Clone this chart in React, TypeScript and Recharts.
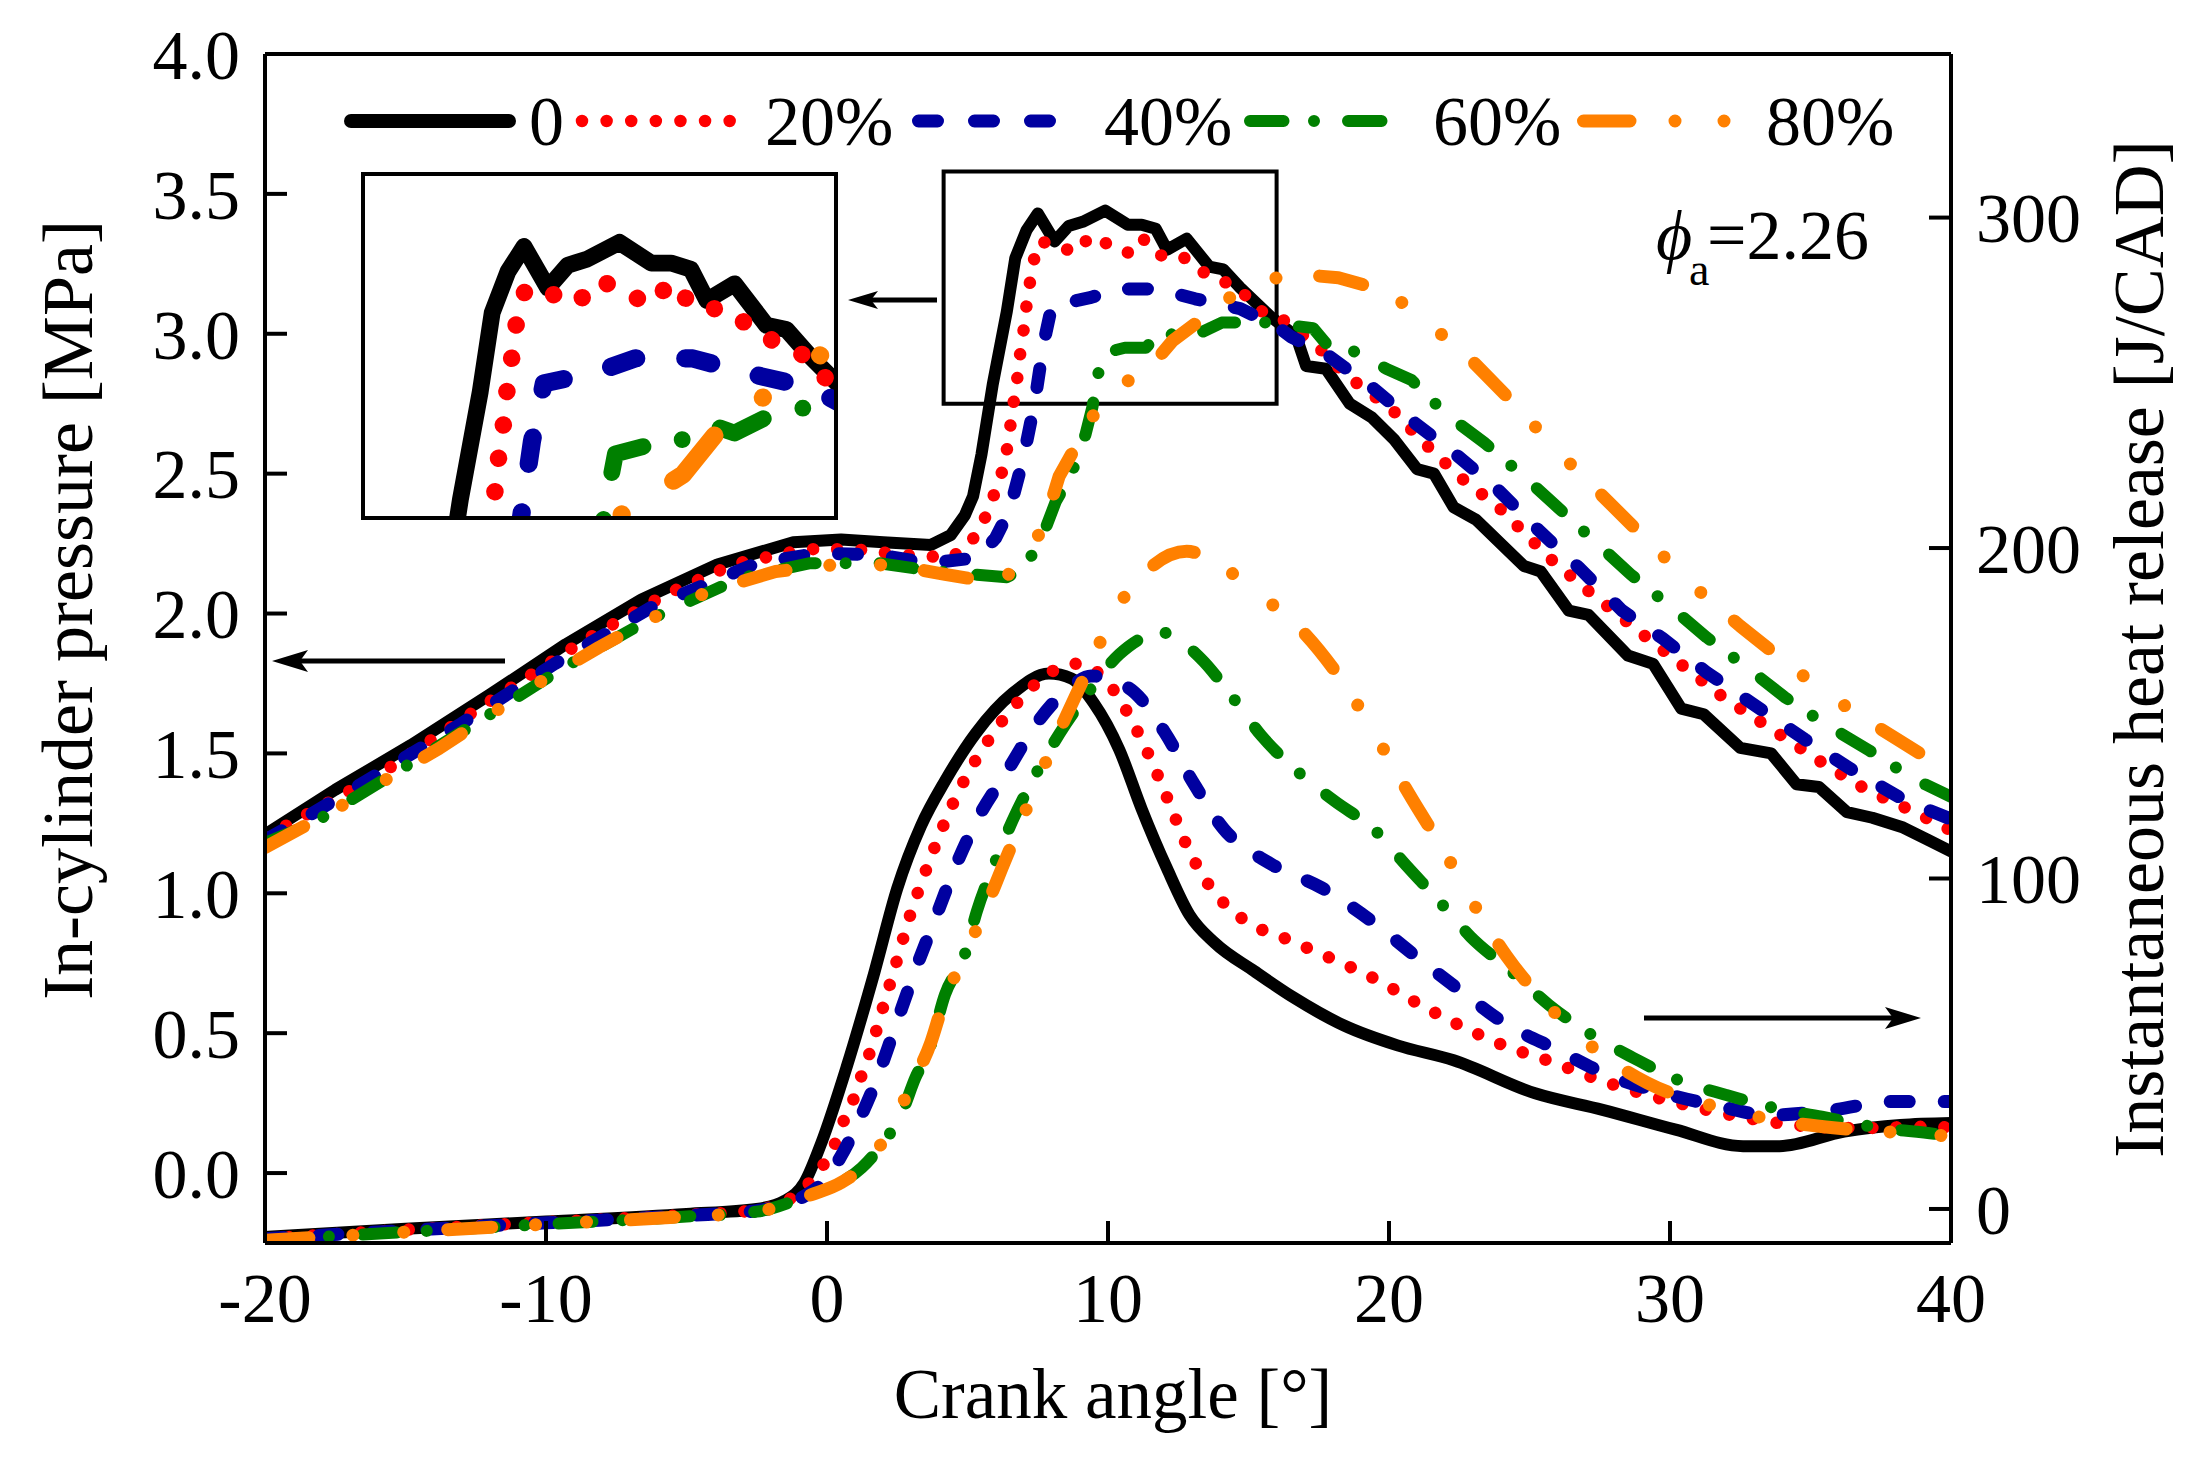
import { LineChart, Line, XAxis, YAxis, ReferenceLine, ReferenceArea } from "recharts"

const FONT = '"Liberation Serif", "Times New Roman", Times, serif'

// crank angle [deg], in-cylinder pressure [MPa]
const pressure0 = [
    [-20, 1.21], [-17.5, 1.37], [-14.8, 1.53], [-12, 1.71], [-9.3, 1.89], [-6.6, 2.05], [-3.9, 2.175],
    [-1.2, 2.255], [0.5, 2.265], [2, 2.255], [3.7, 2.245], [4.4, 2.28], [4.9, 2.35], [5.2, 2.42],
    [5.5, 2.57], [5.9, 2.82], [6.4, 3.08], [6.7, 3.27], [7.1, 3.37], [7.5, 3.43], [8.1, 3.33],
    [8.6, 3.385], [9.1, 3.4], [9.9, 3.44], [10.7, 3.39], [11.2, 3.39], [11.7, 3.375], [12.1, 3.3],
    [12.8, 3.34], [13.6, 3.24], [14.1, 3.23], [14.7, 3.165], [15.8, 3.06], [16.7, 2.99], [17.05, 2.885],
    [17.75, 2.875], [18.6, 2.75], [19.4, 2.7], [20.2, 2.62], [21.0, 2.516], [21.6, 2.5], [22.3, 2.38],
    [23.1, 2.335], [24.8, 2.17], [25.4, 2.15], [26.4, 2.01], [27.1, 1.995], [28.5, 1.85], [29.4, 1.82],
    [30.4, 1.66], [31.2, 1.64], [32.5, 1.52], [33.6, 1.5], [34.5, 1.39], [35.3, 1.38], [36.3, 1.29],
    [37.2, 1.27], [38.3, 1.235], [39.2, 1.19], [40, 1.15],
]
const pressure20 = [
    [-20, 1.2], [-16, 1.42], [-12.4, 1.66], [-8.7, 1.9], [-5.7, 2.07], [-3.3, 2.177], [-0.75, 2.23],
    [1, 2.23], [2.7, 2.21], [4.4, 2.2], [5.0, 2.24], [5.5, 2.31], [5.8, 2.39], [6.15, 2.475],
    [6.37, 2.565], [6.5, 2.65], [6.6, 2.73], [6.75, 2.82], [6.83, 2.9], [6.97, 2.99], [7.07, 3.08],
    [7.19, 3.16], [7.3, 3.24], [7.54, 3.33], [8.1, 3.32], [8.8, 3.29], [9.4, 3.35], [10.0, 3.32],
    [10.7, 3.29], [11.2, 3.345], [11.8, 3.28], [12.6, 3.28], [13.4, 3.22], [14.05, 3.19], [14.7, 3.16],
    [15.3, 3.086], [16.1, 3.06], [17.4, 2.96], [18.1, 2.89], [18.7, 2.835], [19.5, 2.775], [20.1, 2.73],
    [21.2, 2.615], [22.5, 2.49], [23.9, 2.38], [25.7, 2.2], [27.1, 2.08], [29.1, 1.92], [30.5, 1.81],
    [31.9, 1.7], [34.1, 1.555], [35.6, 1.455], [37.0, 1.37], [38.5, 1.3], [40, 1.225],
]
const pressure40 = [
    [-20, 1.19], [-18.4, 1.28], [-13.0, 1.607], [-9.7, 1.82], [-6.2, 2.025], [-2.5, 2.18], [-0.33, 2.215],
    [1.85, 2.21], [3.6, 2.18], [5.4, 2.2], [6.0, 2.27], [6.5, 2.37], [7.0, 2.56], [7.4, 2.76],
    [7.7, 2.96], [8.0, 3.1], [8.5, 3.11], [9.4, 3.13], [10.3, 3.16], [11.75, 3.16], [13.1, 3.125],
    [14.7, 3.09], [16.1, 3.02], [16.5, 2.99], [17.8, 2.925], [19.5, 2.8], [20.8, 2.69], [22.3, 2.575],
    [23.8, 2.45], [25.3, 2.3], [26.8, 2.16], [28.3, 2.01], [29.75, 1.91], [31.3, 1.79], [33.05, 1.67],
    [34.8, 1.55], [36.5, 1.44], [38.4, 1.33], [40, 1.265],
]
const pressure60 = [
    [-20, 1.18], [-18.3, 1.25], [-12.4, 1.614], [-9.4, 1.805], [-6.3, 1.98], [-3.1, 2.126], [-0.6, 2.18],
    [1.85, 2.18], [3.9, 2.15], [6.4, 2.13], [7.0, 2.16], [7.65, 2.27], [8.14, 2.4], [8.7, 2.5],
    [9.2, 2.64], [9.45, 2.74], [9.6, 2.83], [9.8, 2.93], [10.6, 2.95], [11.35, 2.95], [11.9, 3.01],
    [12.8, 2.98], [14.05, 3.04], [15.7, 3.04], [17.3, 3.02], [17.8, 2.96], [18.7, 2.94], [19.9, 2.875],
    [20.8, 2.835], [22.0, 2.715], [23.4, 2.61], [24.8, 2.49], [26.0, 2.38], [27.3, 2.26], [28.6, 2.14],
    [29.95, 2.03], [31.3, 1.915], [32.7, 1.81], [34.1, 1.7], [35.6, 1.6], [37.1, 1.51], [38.65, 1.41],
    [40, 1.345],
]
const pressure80 = [
    [-20, 1.164], [-17.5, 1.3], [-13.8, 1.518], [-10.3, 1.75], [-8.1, 1.88], [-5.9, 2.0], [-4.2, 2.08],
    [-1.83, 2.15], [0.75, 2.18], [2.56, 2.17], [4.2, 2.14], [6.0, 2.11], [7.07, 2.18], [7.8, 2.34],
    [8.26, 2.49], [9.2, 2.66], [9.9, 2.78], [11.0, 2.85], [11.5, 2.88], [12.3, 2.975], [13.7, 3.08],
    [14.6, 3.15], [15.2, 3.18], [16.4, 3.21], [17.1, 3.21], [18.2, 3.2], [20.0, 3.15], [21.2, 3.05],
    [22.6, 2.94], [24.4, 2.755], [26.2, 2.56], [27.5, 2.43], [29.3, 2.25], [31.1, 2.075], [32.5, 1.955],
    [34.5, 1.795], [36.5, 1.65], [38.1, 1.55], [40, 1.43],
]

// crank angle [deg], instantaneous heat release [J/CAD]
const heat0 = [
    [-20, -8.5], [-15, -6], [-10, -3.8], [-5, -1.5], [-2.5, 0], [-1.5, 2.5], [-0.8, 8], [-0.2, 20],
    [0.7, 43], [1.7, 72], [2.5, 97], [3.35, 116], [4.2, 129.5], [5.3, 144], [6.6, 156], [7.9, 162],
    [8.7, 160.5], [9.5, 153], [10.4, 139], [11.2, 121], [12.1, 103], [12.9, 89], [13.8, 80.5],
    [15.2, 72], [16.6, 64], [18.4, 55.5], [20.3, 49.5], [22.3, 45], [25.2, 35], [27.6, 30], [30.2, 24],
    [32.6, 19], [33.9, 19], [36.2, 23.4], [38.2, 25.4], [40, 26],
]
const heat20 = [
    [-20, -9], [-15, -6.3], [-10, -4], [-5, -1.8], [-2.5, -0.3], [-1.0, 5], [-0.26, 11.8], [0.24, 18.8],
    [0.53, 25.4], [0.89, 32], [1.17, 39], [1.46, 45.7], [1.96, 60], [2.44, 73.8], [2.94, 88.4],
    [3.5, 102], [4.13, 115.8], [4.84, 129], [5.68, 141], [6.73, 152.8], [8.08, 163], [8.9, 165],
    [10.2, 157], [10.68, 150.4], [11.45, 137.4], [12.15, 123.5], [12.8, 110], [13.56, 98.4],
    [14.8, 87.7], [16.35, 81.7], [18.0, 75.6], [19.6, 69.2], [21.0, 62.3], [22.6, 55.2], [24.2, 49.1],
    [25.9, 44.2], [27.5, 39], [29.2, 34.5], [30.8, 31], [32.5, 27.9], [35.1, 24.9], [36.8, 24.5],
    [39.4, 24.9], [40, 24.5],
]
const heat40 = [
    [-20, -9], [-15, -6.5], [-10, -4.2], [-5, -2], [-2.5, -0.5], [-1, 3], [-0.13, 8.2], [0.5, 16],
    [0.96, 23.6], [1.74, 38.6], [2.44, 55.4], [3.13, 72], [3.84, 87.6], [4.55, 103.2], [5.4, 118.7],
    [6.37, 131.9], [7.5, 147.4], [8.7, 158.2], [9.4, 161.3], [10.75, 157.6], [12.0, 144.5],
    [13.0, 129.5], [14.1, 115.2], [15.8, 104.4], [17.6, 97.2], [19.4, 87], [20.8, 77.5], [22.5, 66.3],
    [24.1, 56.3], [26.0, 48.1], [27.8, 40.5], [29.8, 35], [31.8, 31], [33.5, 28.4], [35.8, 30],
    [37.9, 32.5], [40, 32.5],
]
const heat60 = [
    [-20, -9.5], [-15, -7], [-10, -4.6], [-5, -2.3], [-2.5, -0.8], [-0.5, 4.7], [0.5, 8], [1.24, 12.5],
    [2.0, 20], [2.66, 29], [3.15, 39.8], [3.63, 48], [4.2, 64.9], [4.9, 76.9], [5.33, 90], [5.96, 104.4],
    [6.6, 117.5], [7.3, 129.5], [8.28, 143.9], [9.25, 155.8], [10.4, 167.8], [11.94, 174.4],
    [13.3, 166.6], [14.4, 155.2], [15.45, 143.3], [16.65, 133.1], [18.05, 123.5], [19.5, 114.6],
    [20.6, 104.1], [21.8, 93], [22.9, 82.4], [24.3, 72.3], [25.7, 61.7], [27.1, 53.3], [28.7, 45.7],
    [30.3, 39], [32.0, 34.5], [33.7, 30.6], [35.4, 27.9], [37.2, 24.9], [39.7, 22.4], [40, 22],
]
const heat80 = [
    [-20, -9.5], [-15, -7], [-10, -4.6], [-5, -2.3], [-2.5, -0.8], [-0.5, 4.5], [0.5, 8], [1.24, 12.5],
    [2.09, 21.8], [3.0, 37.5], [3.7, 50.5], [4.06, 60.2], [4.9, 76.9], [5.6, 90], [6.23, 103.2],
    [6.87, 116.3], [7.5, 129.5], [8.2, 143.3], [9.27, 163], [10.3, 181.5], [11.3, 192.4], [12.8, 199],
    [14.3, 193], [15.6, 184.6], [16.9, 175], [18.55, 157], [19.8, 139.2], [20.7, 125.8], [22.0, 107.7],
    [23.2, 89.6], [24.2, 76.3], [25.7, 61.2], [27.6, 46.6], [29.2, 38.1], [31.6, 31], [34.1, 26.4],
    [35.9, 24.5], [38.4, 23], [40, 22],
]

const seriesNames = ["0", "20%", "40%", "60%", "80%"]
const angleTicks = [-20, -10, 0, 10, 20, 30, 40]
const pressureTicks = [0, 0.5, 1, 1.5, 2, 2.5, 3, 3.5, 4]
const heatTicks = [0, 100, 200, 300]

const styles = [
    { color: "#000000", width: 12, dash: [] as number[] },
    { color: "#FF0000", width: 12.5, dash: [0.01, 24] },
    { color: "#0000A0", width: 13, dash: [19, 35] },
    { color: "#008000", width: 12, dash: [34, 30, 0.01, 34] },
    { color: "#FF8000", width: 13, dash: [44, 44, 0.01, 51, 0.01, 44] },
]

const pressureSets = [pressure0, pressure20, pressure40, pressure60, pressure80]
const heatSets = [heat0, heat20, heat40, heat60, heat80]

const toPts = (arr: number[][]) => arr.map(([x, y]) => ({ x, y }))

const axisStroke = { stroke: "#000", strokeWidth: 4 }
const tickFont = { fontSize: 70, fill: "#000", fontFamily: FONT }

// the inset is a magnified view, so its strokes are drawn larger too
function renderLines(sets: number[][][], axisId: string, kind: string, curve: "linear" | "monotone", scale = 1) {
    return sets.map((set, i) => (
        <Line
            key={kind + i}
            yAxisId={axisId}
            data={toPts(set)}
            dataKey="y"
            type={curve}
            stroke={styles[i].color}
            strokeWidth={styles[i].width * scale}
            strokeDasharray={styles[i].dash.length ? styles[i].dash.map((d) => d * scale).join(" ") : undefined}
            strokeLinecap="round"
            strokeLinejoin="round"
            dot={false}
            activeDot={false}
            isAnimationActive={false}
        />
    ))
}

function Inset() {
    return (
        <div
            style={{
                position: "absolute",
                left: 361,
                top: 172,
                width: 477,
                height: 348,
                boxSizing: "border-box",
                border: "4px solid #000",
                background: "#fff",
            }}
        >
            <LineChart width={469} height={340} margin={{ top: 0, right: 0, bottom: 0, left: 0 }}>
                <XAxis type="number" dataKey="x" domain={[3.5, 15.3]} hide allowDataOverflow />
                <YAxis yAxisId="in" domain={[2.78, 3.6]} hide allowDataOverflow />
                {renderLines(pressureSets, "in", "inset", "linear", 1.4)}
            </LineChart>
        </div>
    )
}

function Annotations() {
    const legendY = 121
    return (
        <svg
            width={2200}
            height={1466}
            style={{ position: "absolute", left: 0, top: 0, pointerEvents: "none" }}
            fontFamily={FONT}
        >
            {/* legend */}
            <g strokeLinecap="round" fill="none">
                <line x1={351} y1={legendY} x2={509} y2={legendY} stroke={styles[0].color} strokeWidth={14} />
                <line x1={582} y1={legendY} x2={731} y2={legendY} stroke={styles[1].color} strokeWidth={12.5} strokeDasharray="0.01 24.6" />
                <line x1={918.5} y1={legendY} x2={1050} y2={legendY} stroke={styles[2].color} strokeWidth={13} strokeDasharray="19 37" />
                <line x1={1250} y1={legendY} x2={1382} y2={legendY} stroke={styles[3].color} strokeWidth={12} strokeDasharray="33.5 30.5 0.01 34" />
                <line x1={1583.5} y1={legendY} x2={1724.5} y2={legendY} stroke={styles[4].color} strokeWidth={13} strokeDasharray="46.5 45 0.01 49 0.01 60" />
            </g>
            <g fontSize={70} fill="#000">
                <text x={529} y={145}>{seriesNames[0]}</text>
                <text x={765} y={145}>{seriesNames[1]}</text>
                <text x={1104} y={145}>{seriesNames[2]}</text>
                <text x={1433} y={145}>{seriesNames[3]}</text>
                <text x={1766} y={145}>{seriesNames[4]}</text>
            </g>

            {/* equivalence ratio note */}
            <text x={1656} y={259} fontSize={70} fontStyle="italic">ϕ</text>
            <text x={1689} y={285} fontSize={46}>a</text>
            <text x={1707} y={259} fontSize={70}>=2.26</text>

            {/* arrows */}
            <g stroke="#000" strokeWidth={5}>
                <line x1={505} y1={661} x2={296} y2={661} />
                <line x1={1644} y1={1018} x2={1896} y2={1018} />
                <line x1={937} y1={300} x2={866} y2={300} />
            </g>
            <g fill="#000">
                <polygon points="272,661 308,650 300,661 308,672" />
                <polygon points="1921,1018 1885,1007 1893,1018 1885,1029" />
                <polygon points="848,300 878,291 871,300 878,309" />
            </g>

            {/* axis titles */}
            <text transform="translate(92,610) rotate(-90)" textAnchor="middle" fontSize={72}>
                In-cylinder pressure [MPa]
            </text>
            <text transform="translate(2163,649) rotate(-90)" textAnchor="middle" fontSize={72}>
                Instantaneous heat release [J/CAD]
            </text>
            <text x={1113} y={1418} textAnchor="middle" fontSize={71}>
                Crank angle [°]
            </text>
        </svg>
    )
}

export default function App() {
    return (
        <div style={{ position: "absolute", left: 0, top: 0, width: 2200, height: 1466, background: "#fff" }}>
            <LineChart width={2200} height={1466} margin={{ top: 54, right: 99, bottom: 123, left: 115 }}>
                <XAxis
                    type="number"
                    dataKey="x"
                    domain={[-20, 40]}
                    ticks={angleTicks}
                    interval={0}
                    height={100}
                    tickSize={-22}
                    tickMargin={51}
                    axisLine={axisStroke}
                    tickLine={axisStroke}
                    tick={tickFont}
                    allowDataOverflow
                />
                <YAxis
                    yAxisId="p"
                    orientation="left"
                    domain={[-0.25, 4]}
                    ticks={pressureTicks}
                    interval={0}
                    width={150}
                    tickSize={-22}
                    tickMargin={47}
                    tickFormatter={(v: number) => v.toFixed(1)}
                    axisLine={axisStroke}
                    tickLine={axisStroke}
                    tick={tickFont}
                    allowDataOverflow
                />
                <YAxis
                    yAxisId="h"
                    orientation="right"
                    domain={[-10.3, 349.5]}
                    ticks={heatTicks}
                    interval={0}
                    width={150}
                    tickSize={-22}
                    tickMargin={47}
                    axisLine={axisStroke}
                    tickLine={axisStroke}
                    tick={tickFont}
                    allowDataOverflow
                />
                <ReferenceLine yAxisId="p" y={4} stroke="#000" strokeWidth={4} />
                <ReferenceArea
                    yAxisId="p"
                    x1={4.15}
                    x2={16}
                    y1={2.75}
                    y2={3.58}
                    fill="#fff"
                    fillOpacity={0}
                    stroke="#000"
                    strokeWidth={4}
                    strokeOpacity={1}
                />
                {renderLines(pressureSets, "p", "pressure", "linear")}
                {renderLines(heatSets, "h", "heat", "monotone")}
            </LineChart>
            <Inset />
            <Annotations />
        </div>
    )
}
